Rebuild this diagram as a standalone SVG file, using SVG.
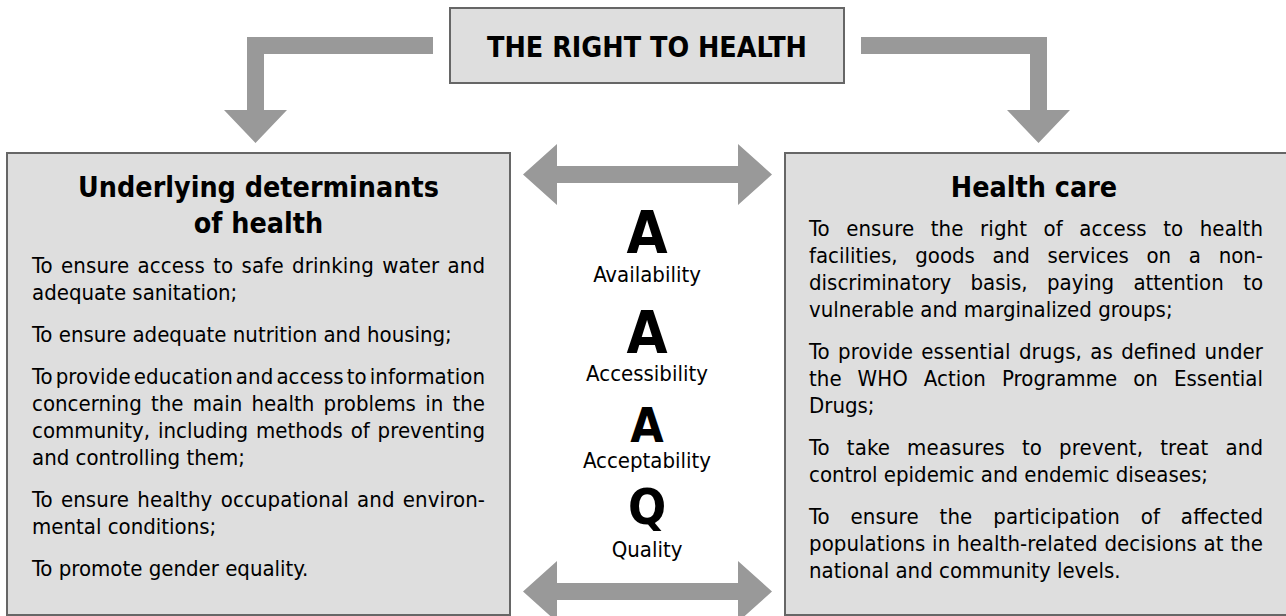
<svg xmlns="http://www.w3.org/2000/svg" width="1286" height="616" viewBox="0 0 1286 616">
  <style>
    .box { fill: #dedede; stroke: #666666; stroke-width: 2; }
    .arrow { fill: #999999; stroke: none; }
    .txt { font-family: "DejaVu Sans Condensed", "DejaVu Sans", sans-serif; font-stretch: condensed; fill: #000; }
    .body { font-size: 22px; }
    .head { font-size: 28.4px; font-weight: bold; text-anchor: middle; }
    .big { font-weight: bold; text-anchor: middle; }
    .lbl { font-size: 22px; text-anchor: middle; }
  </style>
  <rect width="1286" height="616" fill="#ffffff"/>

  <!-- connectors -->
  <g id="connectors">
    <polygon class="arrow" points="433,37 247,37 247,110 224,110 255.5,143 287,110 264,110 264,54 433,54"/>
    <polygon class="arrow" points="861,37 1047,37 1047,110 1070,110 1038.5,143 1007,110 1030,110 1030,54 861,54"/>
    <polygon class="arrow" points="523,174.5 557,144 557,166 738,166 738,144 772,174.5 738,205 738,183 557,183 557,205"/>
    <polygon class="arrow" points="523,591.5 557,561 557,583 738,583 738,561 772,591.5 738,622 738,600 557,600 557,622"/>
  </g>

  <!-- title -->
  <g id="title">
    <rect class="box" x="450" y="8" width="394" height="75"/>
    <text class="txt head" x="647" y="57">THE RIGHT TO HEALTH</text>
  </g>

  <!-- left panel: justified lines use word-spacing, textLength trims the rest -->
  <g id="determinants">
    <rect class="box" x="7" y="153" width="503" height="462"/>
    <text class="txt head" x="258.5" y="197">Underlying determinants</text>
    <text class="txt head" x="258.5" y="233">of health</text>
    <g class="txt body">
      <text x="32" y="273" word-spacing="1.8" textLength="453" lengthAdjust="spacing">To ensure access to safe drinking water and</text>
      <text x="32" y="300">adequate sanitation;</text>
      <text x="32" y="342">To ensure adequate nutrition and housing;</text>
      <text x="32" y="384" word-spacing="-3.4" textLength="453" lengthAdjust="spacing">To provide education and access to information</text>
      <text x="32" y="411" word-spacing="2.9" textLength="453" lengthAdjust="spacing">concerning the main health problems in the</text>
      <text x="32" y="438" word-spacing="1.5" textLength="453" lengthAdjust="spacing">community, including methods of preventing</text>
      <text x="32" y="465">and controlling them;</text>
      <text x="32" y="507" word-spacing="1.8" textLength="453" lengthAdjust="spacing">To ensure healthy occupational and environ-</text>
      <text x="32" y="534">mental conditions;</text>
      <text x="32" y="576">To promote gender equality.</text>
    </g>
  </g>

  <!-- centre column -->
  <g id="aaaq">
    <text class="txt big" x="647" y="253" font-size="59">A</text>
    <text class="txt lbl" x="647" y="282">Availability</text>
    <text class="txt big" x="647" y="353" font-size="59">A</text>
    <text class="txt lbl" x="647" y="381">Accessibility</text>
    <text class="txt big" x="647" y="442" font-size="48">A</text>
    <text class="txt lbl" x="647" y="468">Acceptability</text>
    <text class="txt big" x="647" y="524" font-size="50">Q</text>
    <text class="txt lbl" x="647" y="557">Quality</text>
  </g>

  <!-- right panel -->
  <g id="healthcare">
    <rect class="box" x="785" y="153" width="502" height="462"/>
    <text class="txt head" x="1034" y="197">Health care</text>
    <g class="txt body">
      <text x="809" y="236" word-spacing="10" textLength="454" lengthAdjust="spacing">To ensure the right of access to health</text>
      <text x="809" y="263" word-spacing="11.4" textLength="454" lengthAdjust="spacing">facilities, goods and services on a non-</text>
      <text x="809" y="290" word-spacing="13.1" textLength="454" lengthAdjust="spacing">discriminatory basis, paying attention to</text>
      <text x="809" y="317">vulnerable and marginalized groups;</text>
      <text x="809" y="359" word-spacing="1.9" textLength="454" lengthAdjust="spacing">To provide essential drugs, as defined under</text>
      <text x="809" y="386" word-spacing="9.7" textLength="454" lengthAdjust="spacing">the WHO Action Programme on Essential</text>
      <text x="809" y="413">Drugs;</text>
      <text x="809" y="455" word-spacing="10.5" textLength="454" lengthAdjust="spacing">To take measures to prevent, treat and</text>
      <text x="809" y="482">control epidemic and endemic diseases;</text>
      <text x="809" y="524" word-spacing="14.4" textLength="454" lengthAdjust="spacing">To ensure the participation of affected</text>
      <text x="809" y="551" word-spacing="0.4" textLength="454" lengthAdjust="spacing">populations in health-related decisions at the</text>
      <text x="809" y="578">national and community levels.</text>
    </g>
  </g>
</svg>
